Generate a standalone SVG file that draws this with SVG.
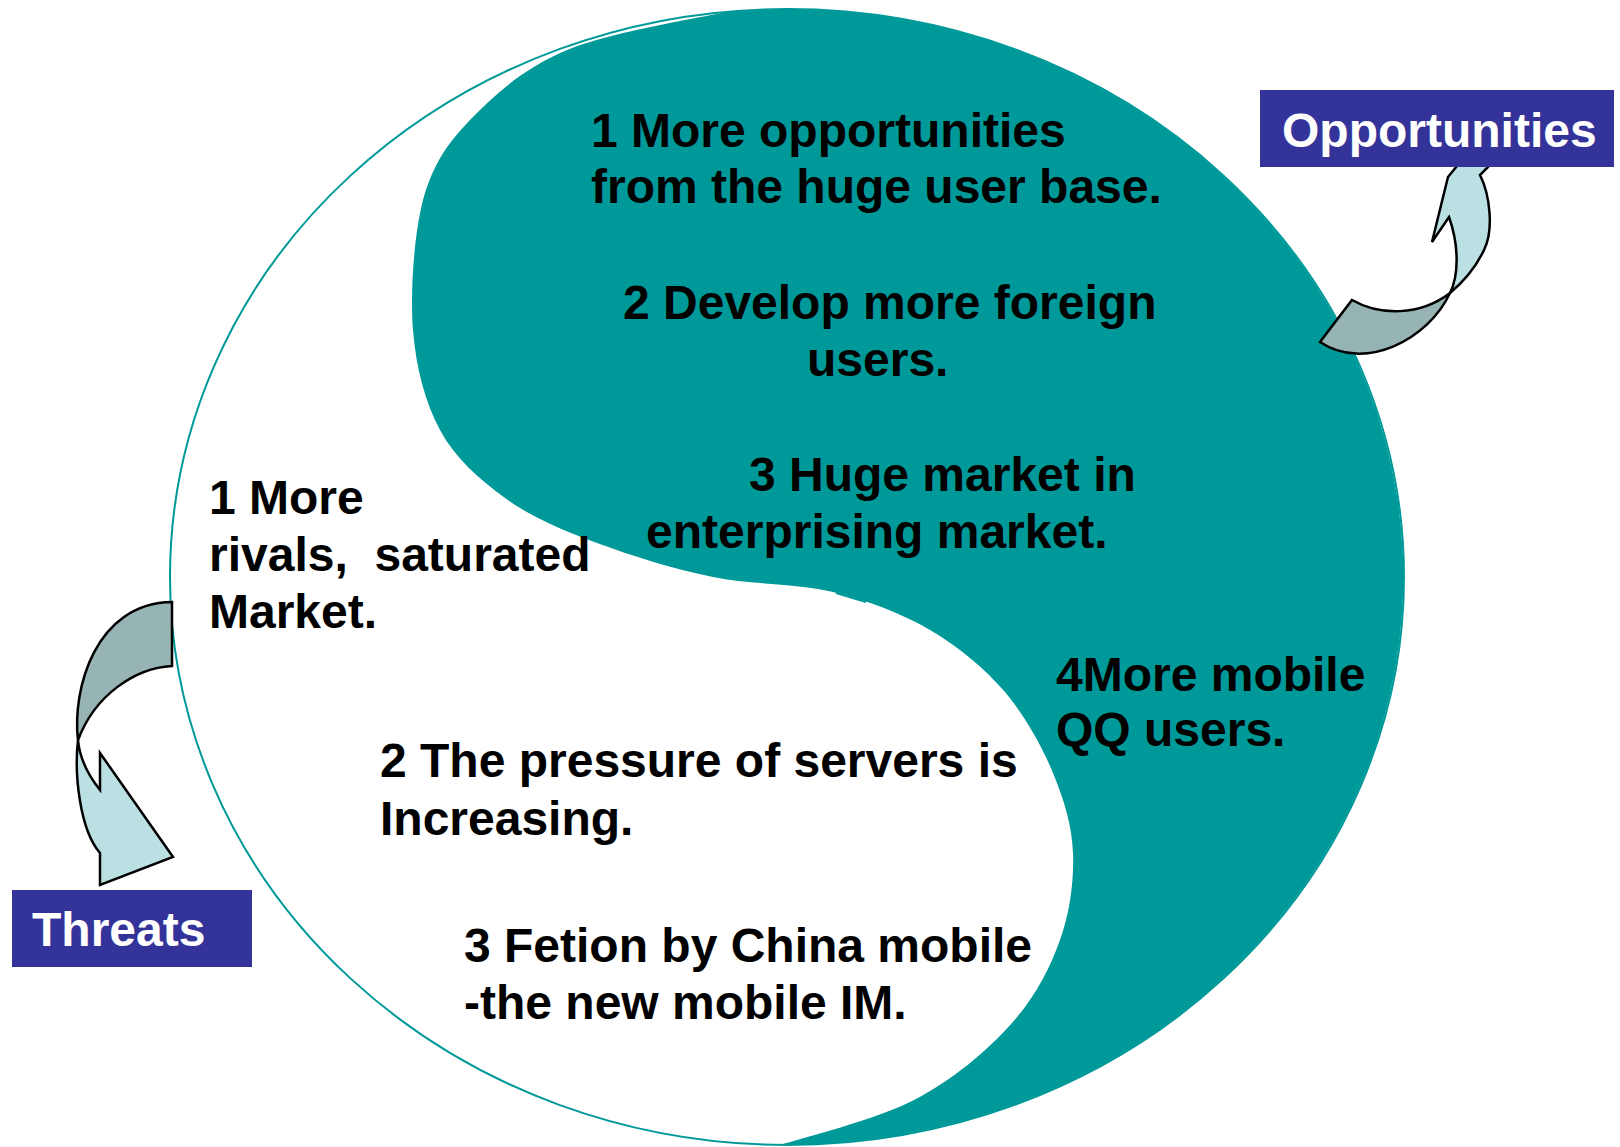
<svg xmlns="http://www.w3.org/2000/svg" width="1620" height="1147" viewBox="0 0 1620 1147">
  <style>
    .body { font-family: "Liberation Sans", Arial, sans-serif; font-weight: bold; font-size: 48px; fill: #000000; }
    .label { font-family: "Liberation Sans", Arial, sans-serif; font-weight: bold; font-size: 48px; fill: #FFFFFF; }
    .box { fill: #333399; }
    .teal { fill: #009999; }
    .ring { fill: none; stroke: #009999; stroke-width: 2; }
    .arrow-dark { fill: #97B4B5; stroke: #000000; stroke-width: 2.5; stroke-linejoin: miter; }
    .arrow-light { fill: #BBE0E3; stroke: #000000; stroke-width: 2.5; stroke-linejoin: miter; }
  </style>

  <rect width="1620" height="1147" fill="#FFFFFF"/>

  <!-- opportunity swirl (teal half of the circle) -->
  <g id="opportunity-region">
    <path class="teal" d="M 730 11.4 A 617 568 0 1 1 780 1145
      C 802 1138 875 1120 914 1100
      C 953 1080 988 1050 1012 1023
      C 1036 996 1050 968 1060 940
      C 1070 912 1074 881 1073 853
      C 1072 825 1064 800 1053 773
      C 1042 746 1025 716 1005 692
      C 984 668 959 647 930 630
      C 901 613 869 601 833 592
      C 797 583 752 585 713 577
      C 674 569 632 556 597 543
      C 562 530 531 517 505 498
      C 479 479 455 458 440 430
      C 425 402 416 368 413 330
      C 410 292 414 235 423 200
      C 433 165 446 145 470 120
      C 494 95 524 68 567 50
      C 610 32 703 17 730 11.4 Z"/>
    <line x1="836" y1="593" x2="866" y2="602" stroke="#009999" stroke-width="2"/>
  </g>

  <!-- outer ring -->
  <g id="outer-ring">
    <ellipse class="ring" cx="787" cy="577" rx="617" ry="568"/>
  </g>

  <!-- opportunities list -->
  <g id="opportunities-text">
    <text class="body" x="591" y="147">1 More opportunities</text>
    <text class="body" x="591" y="203">from the huge user base.</text>
    <text class="body" x="623" y="319">2 Develop more foreign</text>
    <text class="body" x="807" y="376">users.</text>
    <text class="body" x="749" y="491">3 Huge market in</text>
    <text class="body" x="646" y="548">enterprising market.</text>
    <text class="body" x="1056" y="691">4More mobile</text>
    <text class="body" x="1056" y="746">QQ users.</text>
  </g>

  <!-- threats list -->
  <g id="threats-text">
    <text class="body" x="209" y="514">1 More</text>
    <text class="body" x="209" y="571" xml:space="preserve">rivals,  saturated</text>
    <text class="body" x="209" y="628">Market.</text>
    <text class="body" x="380" y="777">2 The pressure of servers is</text>
    <text class="body" x="380" y="835">Increasing.</text>
    <text class="body" x="464" y="962">3 Fetion by China mobile</text>
    <text class="body" x="464" y="1019">-the new mobile IM.</text>
  </g>

  <!-- curved arrows -->
  <g id="connectors">
    <g id="arrow-opportunities">
      <path class="arrow-dark" d="M 1320 342 L 1352 300 C 1380 316 1420 316 1450 293 C 1428 340 1365 372 1320 342 Z"/>
      <path class="arrow-light" d="M 1450 293 C 1459 275 1459 245 1449 217 L 1432 242 L 1448 177 L 1470 150 L 1496 150 L 1488 167 L 1480 175 C 1490 195 1494 230 1484 250 C 1476 267 1462 283 1450 293 Z"/>
    </g>
    <g id="arrow-threats">
      <path class="arrow-dark" d="M 172 602 L 172 666 C 135 668 95 695 78 740 C 72 690 95 603 172 602 Z"/>
      <path class="arrow-light" d="M 78 740 C 74 775 80 830 100 853 L 100 885 L 173 857 L 100 753 L 100 790 C 92 780 80 762 78 740 Z"/>
    </g>
  </g>

  <!-- quadrant labels -->
  <g id="label-opportunities">
    <rect class="box" x="1260" y="90" width="354" height="77"/>
    <text class="label" x="1282" y="147">Opportunities</text>
  </g>
  <g id="label-threats">
    <rect class="box" x="12" y="890" width="240" height="77"/>
    <text class="label" x="32" y="946">Threats</text>
  </g>
</svg>
